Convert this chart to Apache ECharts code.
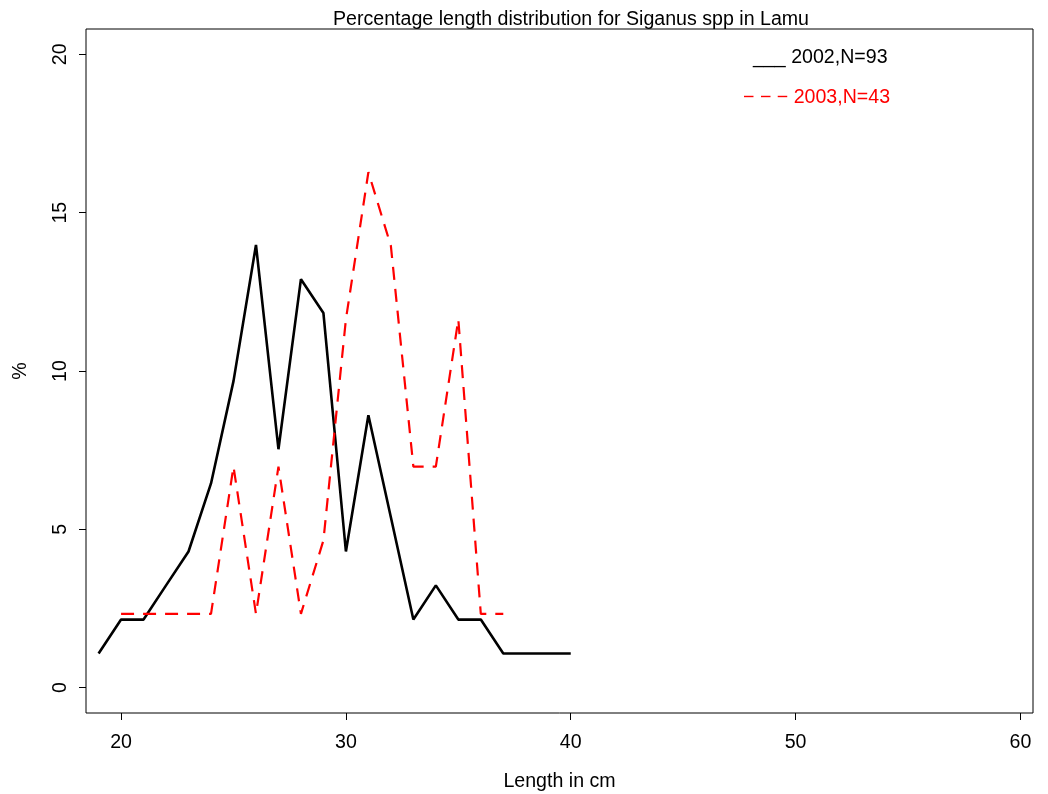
<!DOCTYPE html>
<html>
<head>
<meta charset="utf-8">
<script src="https://cdn.jsdelivr.net/npm/echarts@6/dist/echarts.min.js"></script>
<style>
html,body{margin:0;padding:0;background:#fff;}
#chart{width:1048px;height:794px;}
</style>
</head>
<body>
<div id="chart"></div>
<script>
// length classes (cm) and percentages
var lengths2002 = [19,20,21,22,23,24,25,26,27,28,29,30,31,32,33,34,35,36,37,38,39,40];
var pct2002 = [1.08,2.15,2.15,3.23,4.30,6.45,9.68,13.98,7.53,12.90,11.83,4.30,8.60,5.38,2.15,3.23,2.15,2.15,1.08,1.08,1.08,1.08];
var lengths2003 = [20,21,22,23,24,25,26,27,28,29,30,31,32,33,34,35,36,37];
var pct2003 = [2.33,2.33,2.33,2.33,2.33,6.98,2.33,6.98,2.33,4.65,11.63,16.28,13.95,6.98,6.98,11.63,2.33,2.33];
var xTicks = [20,30,40,50,60];
var yTicks = [0,5,10,15,20];
var legendLabels = ['___ 2002,N=93','\u2212 \u2212 \u2212 2003,N=43'];

function pairs(xs, ys){
	var out = [];
	for (var i = 0; i < xs.length; i++) out.push([xs[i], ys[i]]);
	return out;
}

var font = 'Liberation Sans, Arial, Helvetica, sans-serif';
var fs = 19.6;
var myChart = echarts.init(document.getElementById('chart'));
var option = {
	animation: false,
	backgroundColor: '#fff',
	title: {
		text: 'Percentage length distribution for Siganus spp in Lamu',
		left: 566, top: 5, textAlign: 'center',
		textStyle: {fontFamily: font, fontSize: fs, fontWeight: 'normal', color: '#000'}
	},
	grid: {
		left: 86, right: 15, top: 29, bottom: 81,
		outerBoundsMode: 'none', containLabel: false,
		show: true, borderColor: '#000', borderWidth: 1, backgroundColor: 'transparent'
	},
	xAxis: {
		type: 'value', min: 18.44, max: 60.56,
		name: 'Length in cm', nameLocation: 'middle', nameGap: 59,
		nameTextStyle: {fontFamily: font, fontSize: fs, color: '#000'},
		splitLine: {show: false},
		axisLine: {show: false, onZero: false},
		axisTick: {show: true, customValues: xTicks, length: 7, lineStyle: {color: '#000', width: 1}},
		axisLabel: {customValues: xTicks, margin: 20, fontFamily: font, fontSize: fs, color: '#000'}
	},
	yAxis: {
		type: 'value', min: -0.8, max: 20.8,
		name: '%', nameLocation: 'middle', nameGap: 55, nameRotate: 90,
		nameTextStyle: {fontFamily: font, fontSize: fs, color: '#000'},
		splitLine: {show: false},
		axisLine: {show: false, onZero: false},
		axisTick: {show: true, customValues: yTicks, length: 7, lineStyle: {color: '#000', width: 1}},
		axisLabel: {customValues: yTicks, rotate: 90, margin: 15, fontFamily: font, fontSize: fs, color: '#000'}
	},
	graphic: [
		{type: 'text', x: 753, y: 58, style: {text: legendLabels[0], fill: '#000', font: fs + 'px ' + font, verticalAlign: 'middle'}},
		{type: 'text', x: 743, y: 98, style: {text: legendLabels[1], fill: '#ff0000', font: fs + 'px ' + font, verticalAlign: 'middle'}}
	],
	series: [{
		name: '2002',
		type: 'line',
		showSymbol: false,
		lineStyle: {color: '#000', width: 2.6},
		data: pairs(lengths2002, pct2002)
	}, {
		name: '2003',
		type: 'line',
		showSymbol: false,
		lineStyle: {color: '#ff0000', width: 2.2, type: [13, 9]},
		data: pairs(lengths2003, pct2003)
	}]
};
myChart.setOption(option);
</script>
</body>
</html>
